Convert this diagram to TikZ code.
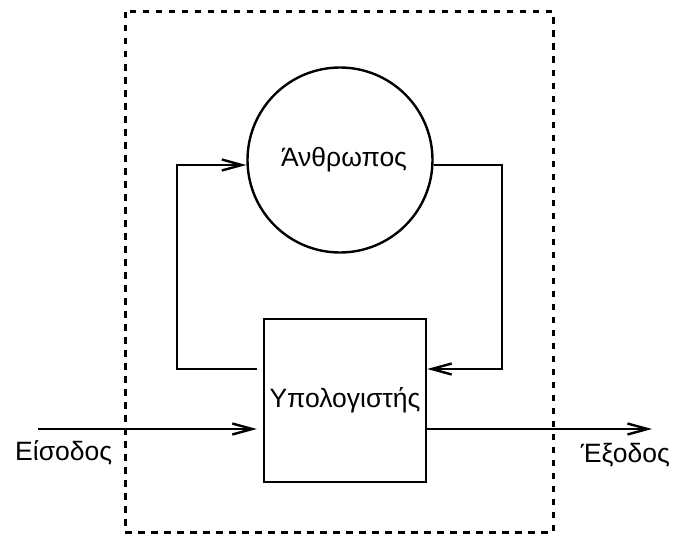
\documentclass[tikz,border=0pt]{standalone}
\usepackage{fontspec}
\setmainfont{Liberation Sans}
\usetikzlibrary{arrows.meta}
\begin{document}
\begin{tikzpicture}[x=1pt,y=-1pt,
  every node/.style={font=\fontsize{26.5}{30}\selectfont},
  wire/.style={line width=2.4pt},
  arr/.style={wire,-{Straight Barb[length=20pt,width=11pt,line width=2.4pt]}},
  frame/.style={line width=3pt,dash pattern=on 6.5pt off 6.5pt},
  unit/.style={draw,line width=2.4pt,inner sep=0pt}]
  \useasboundingbox (0,0) rectangle (674,535);
  % system boundary
  \draw[frame] (125,12) rectangle (553,532);
  % human and computer
  \node[unit,circle,minimum size=185pt] (man) at (340,160) {\hspace*{8pt}Άνθρωπος};
  \node[unit,rectangle,minimum width=162pt,minimum height=163pt] (pc) at (345,400.5) {Υπολογιστής};
  % feedback loop corners
  \coordinate (lb) at (177,369);
  \coordinate (lt) at (177,165);
  \coordinate (rt) at (502,165);
  \coordinate (rb) at (502,369);
  \draw[arr] ([xshift=-6pt]pc.west |- lb) -- (lb) -- (lt) -- (lt -| man.west);
  \draw[arr] (rt -| man.east) -- (rt) -- (rb) -- (rb -| pc.east);
  % input and output
  \coordinate (in) at (38,429);
  \coordinate (out) at (652,429);
  \draw[arr,shorten >=6pt] (in) -- (in -| pc.west);
  \draw[arr] (out -| pc.east) -- (out);
  \node[anchor=base west,inner sep=0pt] (inl) at (15,460) {Είσοδος};
  \node[anchor=base east,inner sep=0pt] (outl) at (670,462) {Έξοδος};
\end{tikzpicture}
\end{document}
